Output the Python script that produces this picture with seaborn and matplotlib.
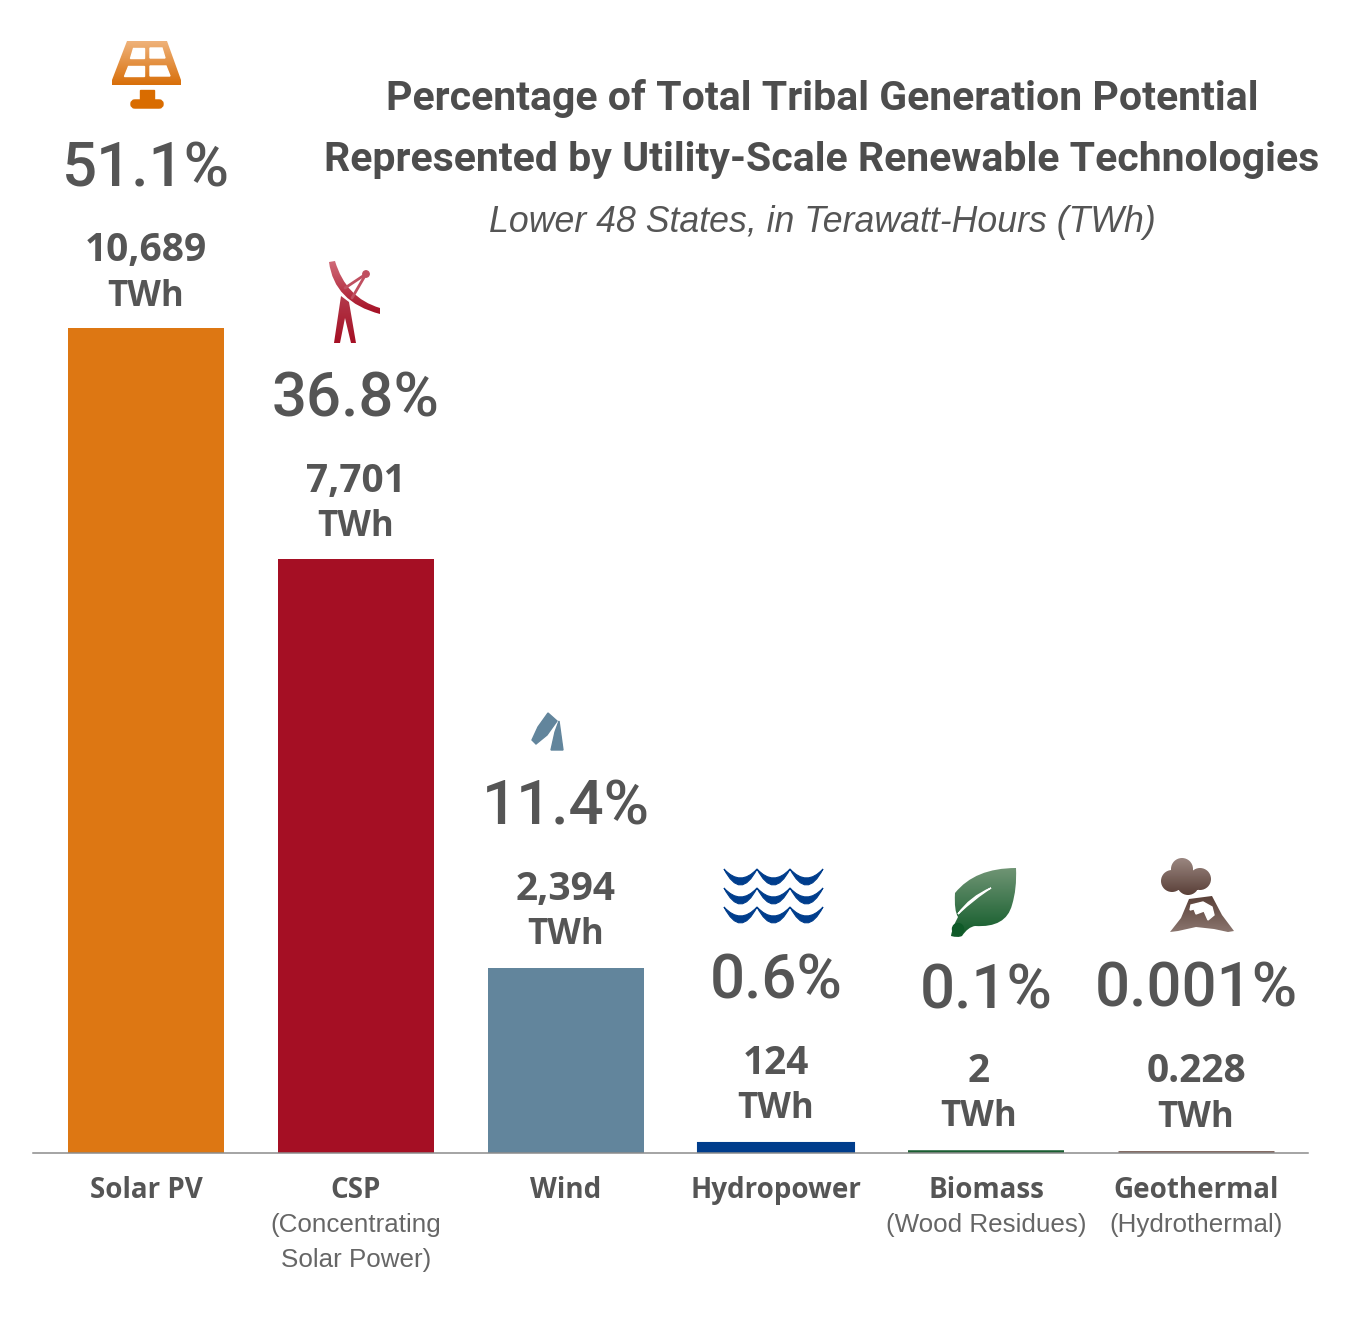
import numpy as np
import matplotlib
matplotlib.use('Agg')
import matplotlib.pyplot as plt
import seaborn as sns
from matplotlib.path import Path
from matplotlib.patches import PathPatch, Circle, Polygon, FancyBboxPatch
from matplotlib.colors import LinearSegmentedColormap

# values
categories = ['Solar PV', 'CSP', 'Wind', 'Hydropower', 'Biomass', 'Geothermal']
twh_values = [10689, 7701, 2394, 124, 2, 0.228]
twh_labels = ['10,689', '7,701', '2,394', '124', '2', '0.228']
pct_labels = ['51.1%', '36.8%', '11.4%', '0.6%', '0.1%', '0.001%']
sub_labels = ['', '(Concentrating\nSolar Power)', '', '', '(Wood Residues)', '(Hydrothermal)']
bar_colors = ['#dd7713', '#a50f24', '#62859c', '#003d8c', '#1a5e32', '#7b6159']

# small per-bar label nudges, in points
twh_lift = [0, 0, 1.5, 2, 3, 3]
pct_lift = [-0.7, -0.7, 0.7, 1.5, 1.5, 3]
outline = [0, 0, 0, 1.5, 4, 3.5]

TEXT = '#555555'

sns.set_style('white')
fig = plt.figure(figsize=(13.5, 13.25), dpi=100)

# main axes, baseline at y=1153 px
ax = fig.add_axes([33 / 1350, (1325 - 1153) / 1325, 1275 / 1350, 1153 / 1325])
sns.barplot(x=categories, y=twh_values, hue=categories, palette=bar_colors,
            width=0.74, saturation=1, legend=False, ax=ax)
ax.set_xlim(-0.538, 5.533)
ax.set_ylim(0, 1153 * 10689 / 825)
for spine in ['left', 'right', 'top']:
    ax.spines[spine].set_visible(False)
ax.spines['bottom'].set_color('#8c8c8c')
ax.spines['bottom'].set_linewidth(1.1)
ax.spines['bottom'].set_zorder(5)
ax.set_yticks([])
ax.set_xticks(range(len(categories)))
ax.set_xticklabels(categories, fontsize=20, fontweight='bold', color=TEXT, family='Open Sans')
ax.tick_params(axis='x', length=0, pad=16.7)
ax.patch.set_alpha(0)

# the tiny bars would vanish without an outline
for patch, color, lw in zip(ax.patches, bar_colors, outline):
    patch.set_edgecolor(color)
    patch.set_linewidth(lw)

for i, value in enumerate(twh_values):
    dx = -5 if categories[i] == 'Biomass' else 0
    ax.annotate('TWh', (i, value), xytext=(dx, 22.5 + twh_lift[i]), textcoords='offset points', ha='center',
                va='center', fontsize=25, fontweight='bold', color=TEXT, family='Open Sans')
    ax.annotate(twh_labels[i], (i, value), xytext=(dx, 55.5 + twh_lift[i]), textcoords='offset points', ha='center',
                va='center', fontsize=28, fontweight='bold', color=TEXT, family='Open Sans')
    ax.annotate(pct_labels[i], (i, value), xytext=(0, 115 + pct_lift[i]), textcoords='offset points', ha='center',
                va='center', fontsize=44.5, fontweight='medium', color=TEXT, family='Roboto')
    if sub_labels[i]:
        ax.annotate(sub_labels[i], (i, 0), xytext=(0, -43), textcoords='offset points', ha='center',
                    va='top', fontsize=18.7, color='#666666', family='Liberation Sans', linespacing=1.6)

# overlay in pixel coordinates for title and icons
ov = fig.add_axes([0, 0, 1, 1])
ov.patch.set_alpha(0)
ov.axis('off')


def grad(verts, top, bottom, codes=None, path=None):
    """fill a shape with a vertical gradient"""
    if path is None:
        if codes is None:
            verts = list(verts) + [verts[0]]
            path = Path(verts, closed=True)
        else:
            path = Path(verts, codes)
    patch = PathPatch(path, facecolor='none', edgecolor='none')
    ov.add_patch(patch)
    xs, ys = path.vertices[:, 0], path.vertices[:, 1]
    cmap = LinearSegmentedColormap.from_list('g', [top, bottom])
    im = ov.imshow(np.linspace(0, 1, 64).reshape(-1, 1), cmap=cmap, aspect='auto',
                   extent=(xs.min(), xs.max(), ys.max(), ys.min()), origin='upper', zorder=2)
    im.set_clip_path(patch)


def circle_path(cx, cy, r):
    return Path(Path.unit_circle().vertices * r + [cx, cy], Path.unit_circle().codes)


def draw_icons():
    # solar panel
    grad([(127, 41), (167, 41), (181, 80), (181, 85), (112, 85), (112, 80)], '#efb27a', '#d86f0a')
    for cell in [[(133, 48), (144, 48), (144, 58), (130, 58)], [(150, 48), (162, 48), (165, 58), (150, 58)],
                 [(128, 66), (144, 66), (144, 76), (124, 76)], [(150, 66), (166, 66), (170, 76), (150, 76)]]:
        ov.add_patch(Polygon(cell, color='white', zorder=3))
    ov.add_patch(Polygon([(140, 90), (154, 90), (154, 100), (140, 100)], color='#d96c00', zorder=3))
    ov.add_patch(FancyBboxPatch((132, 101), 30, 6, boxstyle='round,pad=0,rounding_size=3', mutation_aspect=1,
                                facecolor='#d96c00', edgecolor='#d96c00', lw=2.5, zorder=3))

    # csp dish
    arc_codes = [Path.MOVETO, Path.CURVE3, Path.CURVE3, Path.LINETO, Path.CURVE3, Path.CURVE3, Path.CLOSEPOLY]
    grad([(329, 262), (334, 302), (380, 314), (380, 308), (346, 298), (335, 261), (329, 262)],
         '#d06a78', '#a50f24', codes=arc_codes)
    grad([(341, 296), (349, 302), (356, 343), (351, 343), (345, 318), (340, 343), (334, 343)],
         '#b33a4b', '#a50f24')
    ov.plot([345, 366], [288, 274], color='#c04f60', lw=2, zorder=3)
    ov.plot([352, 366], [298, 274], color='#c04f60', lw=2, zorder=3)
    ov.add_patch(Circle((366, 274), 3.2, color='#c04f60', zorder=3))

    # wind blades
    ov.add_patch(Polygon([(548, 713), (557, 721), (547, 735), (536, 744), (532, 740), (538, 727)],
                         color='#62859c', zorder=3))
    ov.add_patch(Polygon([(559, 721), (563, 750), (551, 750), (555, 732)], color='#62859c', zorder=3))

    # waves
    cusps = [724, 757, 790, 823]
    codes = [Path.MOVETO, Path.CURVE3, Path.CURVE3, Path.CURVE3, Path.CURVE3, Path.CLOSEPOLY]
    for top in [868, 887, 906]:
        for x0, x1 in zip(cusps[:-1], cusps[1:]):
            mid = (x0 + x1) / 2
            verts = [(x0, top + 1), (mid, top + 33), (x1, top + 1), (mid, top + 19), (x0, top + 1), (x0, top + 1)]
            ov.add_patch(PathPatch(Path(verts, codes), facecolor='#003d8c', edgecolor='#003d8c', lw=0.8, zorder=3))

    # leaf
    leaf = [(1016, 868), (975, 868), (955, 893), (954, 911), (958, 917), (952, 928), (951, 936), (958, 938),
            (962, 936), (968, 927), (975, 926), (1006, 928), (1012, 905), (1017, 889), (1016, 868)]
    leaf_codes = [Path.MOVETO] + [Path.CURVE3, Path.CURVE3] * 7
    grad(leaf, '#6f9474', '#0f5a28', codes=leaf_codes)
    ov.add_patch(Circle((958, 929), 5.5, color='#0f5a28', zorder=3))
    vein = Path([(958, 914), (970, 897), (991, 888), (975, 898), (958, 914)],
                [Path.MOVETO, Path.CURVE3, Path.CURVE3, Path.CURVE3, Path.CURVE3])
    ov.add_patch(PathPatch(vein, facecolor='white', edgecolor='white', lw=1, zorder=3))

    # volcano
    cloud = Path.make_compound_path(circle_path(1182, 869, 11), circle_path(1172, 881, 11),
                                    circle_path(1200, 879, 11), circle_path(1188, 884, 11))
    grad(None, '#9a8680', '#5a4038', path=cloud)
    grad([(1189, 899), (1212, 896), (1222, 915), (1234, 931), (1228, 932), (1214, 929), (1196, 927),
          (1178, 931), (1170, 932), (1181, 918)], '#5a4038', '#8a756e')
    ov.add_patch(Polygon([(1191, 905), (1203, 902), (1212, 907), (1214, 915), (1208, 920), (1204, 911),
                          (1196, 914), (1194, 909), (1190, 910)], color='white', zorder=3))


draw_icons()
ov.set_xlim(0, 1350)
ov.set_ylim(1325, 0)

ov.text(822, 98, 'Percentage of Total Tribal Generation Potential', ha='center', va='center',
        fontsize=29.5, fontweight='bold', color='#4d4d4d', family='Roboto')
ov.text(822, 160, 'Represented by Utility-Scale Renewable Technologies', ha='center', va='center',
        fontsize=29.5, fontweight='bold', color='#4d4d4d', family='Roboto')
ov.text(822, 223, 'Lower 48 States, in Terawatt-Hours (TWh)', ha='center', va='center',
        fontsize=25.7, style='italic', color='#555555', family='Liberation Sans')

fig.savefig('out.png', dpi=100)
